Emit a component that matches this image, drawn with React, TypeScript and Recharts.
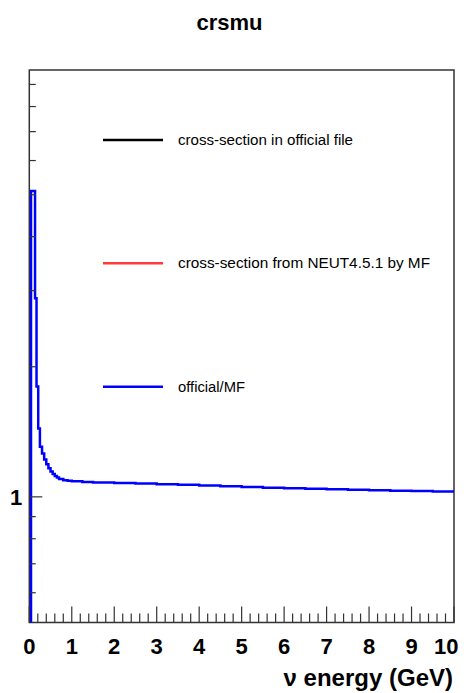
import React from "react";
import { LineChart, Line, XAxis, YAxis, Legend, Label, ReferenceArea } from "recharts";

const title = "crsmu";
const xTitle = "ν energy (GeV)";

// neutrino energy (GeV) - bin edges
const energies = [
  0, 0.04, 0.135, 0.17, 0.21, 0.25, 0.3, 0.35, 0.4, 0.45, 0.5, 0.55, 0.6, 0.65, 0.7,
  0.8, 0.9, 1.0, 1.25, 1.5, 2.0, 2.5, 3.0, 3.5, 4.0, 4.5, 5.0, 5.5, 6.0, 6.5, 7.0,
  7.5, 8.0, 8.5, 9.0, 9.5, 10.0,
];
// official/MF ratio
const ratios = [
  0.3, 5.1, 2.88, 1.8, 1.44, 1.306, 1.26, 1.22, 1.19, 1.165, 1.145, 1.13, 1.118, 1.108, 1.1,
  1.093, 1.089, 1.087, 1.083, 1.08, 1.077, 1.074, 1.07, 1.066, 1.062, 1.058, 1.054, 1.05, 1.047, 1.044, 1.041,
  1.038, 1.036, 1.033, 1.031, 1.029, 1.027,
];

const xTicks = [
  0, 0.2, 0.4, 0.6, 0.8, 1, 1.2, 1.4, 1.6, 1.8, 2, 2.2, 2.4, 2.6, 2.8, 3, 3.2, 3.4, 3.6, 3.8,
  4, 4.2, 4.4, 4.6, 4.8, 5, 5.2, 5.4, 5.6, 5.8, 6, 6.2, 6.4, 6.6, 6.8, 7, 7.2, 7.4, 7.6, 7.8,
  8, 8.2, 8.4, 8.6, 8.8, 9, 9.2, 9.4, 9.6, 9.8, 10,
];
const xLabels = [0, 1, 2, 3, 4, 5, 6, 7, 8, 9, 10];
const yTicks = [0.6, 0.7, 0.8, 0.9, 1, 2, 3, 4, 5, 6, 7, 8, 9];
const yLabels = [1];
const xDomain = [0, 10];
const yDomain = [0.512, 9.72];

const legendNames = [
  "cross-section in official file",
  "cross-section from NEUT4.5.1 by MF",
  "official/MF",
];
const legendColors = ["#000000", "#ff3b3b", "#0000ff"];

const data = energies.map((e, i) => ({ e, r: ratios[i] }));

const FONT = '"Liberation Sans", Arial, Helvetica, sans-serif';

const XTick = (props: any) => {
  const { x, y, payload } = props;
  const v = payload.value;
  const major = xLabels.some((l) => Math.abs(l - v) < 1e-6);
  const isLast = v === xLabels[xLabels.length - 1];
  return (
    <g>
      <line x1={x} x2={x} y1={y} y2={y - (major ? 16 : 9)} stroke="#333" strokeWidth={1.2} />
      {major && (
        <text
          x={isLast ? x + 4.5 : x}
          y={y + 31.5}
          textAnchor={isLast ? "end" : "middle"}
          fontSize={22}
          fontWeight="bold"
          fontFamily={FONT}
          fill="#000"
        >
          {v}
        </text>
      )}
    </g>
  );
};

const YTick = (props: any) => {
  const { x, y, payload } = props;
  const v = payload.value;
  const major = yLabels.some((l) => Math.abs(l - v) < 1e-6);
  return (
    <g>
      <line x1={x} x2={x + (major ? 13 : 6.5)} y1={y} y2={y} stroke="#333" strokeWidth={1.2} />
      {major && (
        <text x={x - 7} y={y + 8} textAnchor="end" fontSize={22} fontWeight="bold" fontFamily={FONT} fill="#000">
          {v}
        </text>
      )}
    </g>
  );
};

const legendTextLengths = [175, 252, 67];
const legendRowY = [132, 255.3, 378.7];

const LegendBox = () => (
  <svg width={451} height={420} style={{ display: "block" }}>
    {legendNames.map((name, i) => (
      <g key={name}>
        <line x1={95} x2={155} y1={legendRowY[i]} y2={legendRowY[i]} stroke={legendColors[i]} strokeWidth={2.5} />
        <text
          x={170}
          y={legendRowY[i] + 5}
          fontSize={14}
          fontFamily={FONT}
          fill="#000"
          textLength={legendTextLengths[i]}
          lengthAdjust="spacingAndGlyphs"
        >
          {name}
        </text>
      </g>
    ))}
  </svg>
);

export default function App() {
  return (
    <div style={{ position: "relative", width: 451, height: 685 }}>
      <svg width={451} height={40} style={{ position: "absolute", left: 0, top: 0 }}>
        <text x={221.5} y={21.5} textAnchor="middle" fontSize={22} fontWeight="bold" fontFamily={FONT} fill="#000">
          {title}
        </text>
      </svg>
      <LineChart
        width={451}
        height={685}
        data={data}
        margin={{ top: 62, right: 5, bottom: 69.5, left: 20.3 }}
      >
        <XAxis
          dataKey="e"
          type="number"
          domain={xDomain}
          ticks={xTicks}
          interval={0}
          allowDataOverflow
          height={1}
          tickSize={0}
          tickMargin={0}
          axisLine={false}
          tickLine={false}
          tick={<XTick />}
        >
          <Label
            content={(p: any) => {
              const vb = p.viewBox || { x: 21.3, y: 614.5, width: 424.7 };
              return (
                <text
                  x={vb.x + vb.width - 1}
                  y={vb.y + 63.5}
                  textAnchor="end"
                  fontSize={24}
                  fontWeight="bold"
                  fontFamily={FONT}
                  fill="#000"
                >
                  {xTitle}
                </text>
              );
            }}
          />
        </XAxis>
        <YAxis
          type="number"
          scale="log"
          domain={yDomain}
          ticks={yTicks}
          interval={0}
          allowDataOverflow
          width={1}
          tickSize={0}
          tickMargin={0}
          axisLine={false}
          tickLine={false}
          tick={<YTick />}
        />
        <Line
          dataKey="r"
          type="stepAfter"
          stroke="#0000ff"
          strokeWidth={2.5}
          dot={false}
          activeDot={false}
          isAnimationActive={false}
        />
        <ReferenceArea
          x1={xDomain[0]}
          x2={xDomain[1]}
          y1={yDomain[0]}
          y2={yDomain[1]}
          fill="none"
          stroke="#333"
          strokeWidth={1.5}
          ifOverflow="visible"
        />
        <Legend
          layout="vertical"
          align="center"
          verticalAlign="middle"
          content={<LegendBox />}
          wrapperStyle={{ position: "absolute", left: 0, top: 0, width: 451, height: 420 }}
        />
      </LineChart>
    </div>
  );
}
